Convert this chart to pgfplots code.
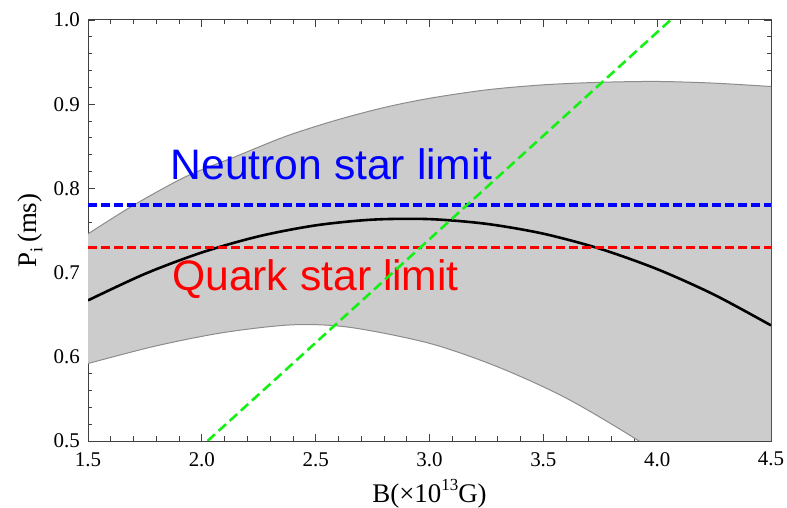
\documentclass[border=0pt]{standalone}
\usepackage{fontspec}
\setmainfont{Liberation Serif}
\newfontfamily\arial{Liberation Sans}
\usepackage{pgfplots}
\pgfplotsset{compat=1.18}
\usepgfplotslibrary{fillbetween}
\definecolor{bandfill}{RGB}{204,204,204}
\definecolor{bandedge}{RGB}{140,140,140}
\definecolor{lgreen}{RGB}{20,240,20}
\begin{document}
\begin{tikzpicture}
\begin{axis}[
  scale only axis,
  width=683bp, height=421bp,
  xmin=1.5, xmax=4.5, ymin=0.5, ymax=1.0,
  xtick={1.5,2.0,...,4.5}, ytick={0.5,0.6,...,1.0},
  minor x tick num=4, minor y tick num=4,
  xticklabels={1.5,2.0,2.5,3.0,3.5,4.0,4.5},
  yticklabels={0.5,0.6,0.7,0.8,0.9,1.0},
  tick align=inside,
  major tick length=7bp, minor tick length=4.5bp,
  every tick/.style={black!75, line width=0.8bp},
  axis line style={black!75, line width=1bp},
  tick label style={font=\fontsize{21}{21}\selectfont, inner sep=1bp},
  /pgf/number format/assume math mode=true,
  xticklabel style={yshift=-10bp},
  yticklabel style={xshift=-7bp},
  xlabel={B(×10\raisebox{0.42em}{\fontsize{17}{17}\selectfont 13}G)},
  ylabel={P\raisebox{-0.22em}{\fontsize{18}{18}\selectfont i}\,(ms)},
  label style={font=\fontsize{27}{27}\selectfont},
  xlabel style={at={(rel axis cs:0.5,0)}, anchor=base, yshift=-61bp},
  ylabel style={at={(rel axis cs:0,0.5)}, anchor=center, yshift=58bp},
]
\addplot[name path=U, draw=none, smooth] coordinates {
(1.5,0.746) (1.7,0.780) (1.93,0.814) (2.15,0.838) (2.37,0.862) (2.59,0.881)
(2.8,0.896) (3.0,0.907) (3.25,0.917) (3.5,0.923) (3.75,0.926) (4.0,0.927)
(4.25,0.925) (4.5,0.921)};
\addplot[name path=L, draw=none, smooth] coordinates {
(1.5,0.592) (1.8,0.613) (2.1,0.629) (2.4,0.638) (2.65,0.635) (3.0,0.616)
(3.3,0.588) (3.6,0.551) (3.92,0.500) (4.2,0.448) (4.5,0.385)};
\addplot[fill=bandfill, draw=none] fill between[of=U and L];
\addplot[bandedge, line width=1bp, smooth] coordinates {
(1.5,0.746) (1.7,0.780) (1.93,0.814) (2.15,0.838) (2.37,0.862) (2.59,0.881)
(2.8,0.896) (3.0,0.907) (3.25,0.917) (3.5,0.923) (3.75,0.926) (4.0,0.927)
(4.25,0.925) (4.5,0.921)};
\addplot[bandedge, line width=1bp, smooth] coordinates {
(1.5,0.592) (1.8,0.613) (2.1,0.629) (2.4,0.638) (2.65,0.635) (3.0,0.616)
(3.3,0.588) (3.6,0.551) (3.92,0.500) (4.2,0.448) (4.5,0.385)};
\addplot[black, line width=2.6bp, smooth] coordinates {
(1.5,0.667) (1.75,0.6985) (2.0,0.7239) (2.25,0.7431) (2.5,0.7561) (2.75,0.7629)
(3.0,0.7635) (3.25,0.7579) (3.5,0.7462) (3.75,0.7282) (4.0,0.7041) (4.25,0.6738)
(4.5,0.6373)};
\addplot[blue, line width=3.6bp, dash pattern=on 9bp off 4bp] coordinates {(1.5,0.78) (4.5,0.78)};
\addplot[red, line width=3.2bp, dash pattern=on 9bp off 4bp] coordinates {(1.5,0.73) (4.5,0.73)};
\node[anchor=base west, inner sep=0pt, text=blue, font=\arial\fontsize{42.8}{43}\selectfont] at (axis cs:1.862,0.81) {Neutron star limit};
\node[anchor=base west, inner sep=0pt, text=red, font=\arial\fontsize{42.8}{43}\selectfont] at (axis cs:1.869,0.679) {Quark star limit};
\addplot[lgreen, line width=2.6bp, dash pattern=on 10bp off 5bp] coordinates {(2.025,0.5) (4.059,1.0)};
\coordinate (SW) at (rel axis cs:0,0);
\coordinate (NE) at (rel axis cs:1,1);
\end{axis}
\pgfresetboundingbox
\path ([shift={(-88bp,-67bp)}]SW) rectangle ([shift={(16bp,20bp)}]NE);
\end{tikzpicture}
\end{document}
